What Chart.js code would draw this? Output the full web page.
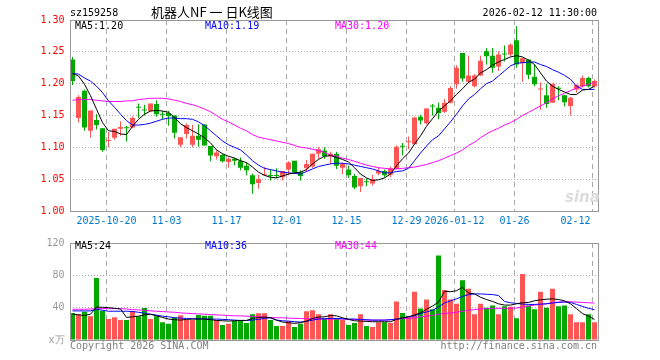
<!DOCTYPE html>
<html>
<head>
<meta charset="utf-8">
<script src="https://cdn.jsdelivr.net/npm/chart.js@4.4.1/dist/chart.umd.min.js"></script>
<style>
  body { margin: 0; background: #fff; }
  #wrap { position: relative; width: 660px; height: 360px; overflow: hidden;
          font-family: 'DejaVu Sans Mono', monospace; font-size: 10px; }
  canvas { position: absolute; left: 0; }
  .t { position: absolute; white-space: nowrap; line-height: 12px; }
</style>
</head>
<body>
<div id="wrap">
  <canvas id="price" width="660" height="232" style="top:0"></canvas>
  <canvas id="vol" width="660" height="128" style="top:232px"></canvas>

  <div class="t" style="left:70px;top:7px">sz159258</div>
  <div class="t" style="left:151px;top:4px;font-family:'Noto Sans CJK SC';font-size:13px;line-height:16px">机器人NF 一 日K线图</div>
  <div class="t" style="right:63px;top:7px">2026-02-12 11:30:00</div>

  <div class="t" style="left:75px;top:20px;color:#000">MA5:1.20</div>
  <div class="t" style="left:205px;top:20px;color:#0000ff">MA10:1.19</div>
  <div class="t" style="left:335px;top:20px;color:#ff00ff">MA30:1.20</div>

  <div class="t" style="left:565px;top:188px;color:#dcdcdc;font:italic bold 15px 'DejaVu Sans'">sina</div>

  <div class="t" style="left:75px;top:240px;color:#000">MA5:24</div>
  <div class="t" style="left:205px;top:240px;color:#0000ff">MA10:36</div>
  <div class="t" style="left:335px;top:240px;color:#ff00ff">MA30:44</div>

  <div class="t" style="left:70px;top:340px;color:#808080">Copyright 2026 SINA.COM</div>
  <div class="t" style="right:63px;top:340px;color:#808080">http://finance.sina.com.cn</div>
</div>

<script>
// trading days shown on the chart
const dates = [
  '2025-10-10', '2025-10-13', '2025-10-14', '2025-10-15', '2025-10-16', '2025-10-17',
  '2025-10-20', '2025-10-21', '2025-10-22', '2025-10-23', '2025-10-24',
  '2025-10-27', '2025-10-28', '2025-10-29', '2025-10-30', '2025-10-31',
  '2025-11-03', '2025-11-04', '2025-11-05', '2025-11-06', '2025-11-07',
  '2025-11-10', '2025-11-11', '2025-11-12', '2025-11-13', '2025-11-14',
  '2025-11-17', '2025-11-18', '2025-11-19', '2025-11-20', '2025-11-21',
  '2025-11-24', '2025-11-25', '2025-11-26', '2025-11-27', '2025-11-28',
  '2025-12-01', '2025-12-02', '2025-12-03', '2025-12-04', '2025-12-05',
  '2025-12-08', '2025-12-09', '2025-12-10', '2025-12-11', '2025-12-12',
  '2025-12-15', '2025-12-16', '2025-12-17', '2025-12-18', '2025-12-19',
  '2025-12-22', '2025-12-23', '2025-12-24', '2025-12-25', '2025-12-26',
  '2025-12-29', '2025-12-30', '2025-12-31',
  '2026-01-05', '2026-01-06', '2026-01-07', '2026-01-08', '2026-01-09',
  '2026-01-12', '2026-01-13', '2026-01-14', '2026-01-15', '2026-01-16',
  '2026-01-19', '2026-01-20', '2026-01-21', '2026-01-22', '2026-01-23',
  '2026-01-26', '2026-01-27', '2026-01-28', '2026-01-29', '2026-01-30',
  '2026-02-02', '2026-02-03', '2026-02-04', '2026-02-05', '2026-02-06',
  '2026-02-09', '2026-02-10', '2026-02-11', '2026-02-12',
];

const tickDates = ['2025-10-20', '2025-11-03', '2025-11-17', '2025-12-01', '2025-12-15',
                   '2025-12-29', '2026-01-12', '2026-01-26', '2026-02-12'];
const tickText = ['2025-10-20', '11-03', '11-17', '12-01', '12-15',
                  '12-29', '2026-01-12', '01-26', '02-12'];

const opens = [
  1.238, 1.146, 1.189, 1.126, 1.143, 1.130, 1.110, 1.115, 1.129, 1.131,
  1.131, 1.163, 1.159, 1.157, 1.168, 1.152, 1.154, 1.150, 1.104, 1.121,
  1.104, 1.118, 1.136, 1.102, 1.086, 1.088, 1.077, 1.082, 1.079, 1.071,
  1.056, 1.044, 1.056, 1.056, 1.056, 1.053, 1.065, 1.079, 1.061, 1.067,
  1.070, 1.090, 1.095, 1.086, 1.090, 1.068, 1.065, 1.055, 1.039, 1.046,
  1.043, 1.059, 1.063, 1.057, 1.066, 1.102, 1.108, 1.105, 1.148, 1.138,
  1.165, 1.162, 1.156, 1.170, 1.199, 1.248, 1.203, 1.196, 1.213, 1.251,
  1.244, 1.227, 1.247, 1.246, 1.268, 1.232, 1.238, 1.211, 1.191, 1.182,
  1.170, 1.193, 1.182, 1.165, 1.191, 1.196, 1.209, 1.196,
];
const highs = [
  1.242, 1.182, 1.191, 1.158, 1.152, 1.130, 1.124, 1.129, 1.141, 1.134,
  1.149, 1.169, 1.167, 1.169, 1.174, 1.157, 1.157, 1.150, 1.116, 1.138,
  1.135, 1.136, 1.136, 1.102, 1.095, 1.090, 1.084, 1.084, 1.084, 1.076,
  1.059, 1.057, 1.069, 1.065, 1.067, 1.063, 1.078, 1.079, 1.064, 1.080,
  1.090, 1.100, 1.100, 1.093, 1.093, 1.076, 1.071, 1.058, 1.052, 1.051,
  1.057, 1.069, 1.065, 1.070, 1.103, 1.107, 1.117, 1.148, 1.151, 1.161,
  1.168, 1.170, 1.176, 1.196, 1.229, 1.248, 1.244, 1.215, 1.244, 1.256,
  1.256, 1.251, 1.260, 1.263, 1.290, 1.241, 1.238, 1.230, 1.202, 1.200,
  1.200, 1.196, 1.182, 1.179, 1.199, 1.213, 1.211, 1.207,
];
const lows = [
  1.198, 1.139, 1.126, 1.115, 1.128, 1.093, 1.100, 1.112, 1.118, 1.109,
  1.130, 1.146, 1.150, 1.155, 1.148, 1.144, 1.134, 1.114, 1.100, 1.114,
  1.100, 1.101, 1.103, 1.078, 1.081, 1.076, 1.068, 1.072, 1.064, 1.056,
  1.027, 1.035, 1.055, 1.048, 1.052, 1.048, 1.056, 1.058, 1.048, 1.061,
  1.068, 1.082, 1.082, 1.074, 1.066, 1.058, 1.052, 1.034, 1.030, 1.039,
  1.040, 1.056, 1.053, 1.053, 1.066, 1.087, 1.097, 1.105, 1.136, 1.136,
  1.150, 1.144, 1.154, 1.169, 1.192, 1.203, 1.201, 1.194, 1.212, 1.230,
  1.217, 1.220, 1.235, 1.243, 1.225, 1.203, 1.207, 1.196, 1.159, 1.162,
  1.170, 1.174, 1.164, 1.150, 1.186, 1.194, 1.194, 1.194,
];
const closes = [
  1.204, 1.179, 1.131, 1.158, 1.135, 1.096, 1.111, 1.129, 1.132, 1.130,
  1.146, 1.162, 1.158, 1.169, 1.152, 1.151, 1.149, 1.123, 1.116, 1.135,
  1.118, 1.112, 1.103, 1.087, 1.092, 1.078, 1.082, 1.079, 1.068, 1.064,
  1.042, 1.050, 1.057, 1.055, 1.055, 1.063, 1.076, 1.061, 1.055, 1.074,
  1.090, 1.097, 1.086, 1.090, 1.071, 1.074, 1.056, 1.037, 1.052, 1.045,
  1.050, 1.063, 1.056, 1.067, 1.101, 1.101, 1.109, 1.147, 1.142, 1.161,
  1.164, 1.154, 1.170, 1.193, 1.225, 1.208, 1.213, 1.213, 1.236, 1.243,
  1.225, 1.246, 1.246, 1.261, 1.230, 1.240, 1.214, 1.199, 1.192, 1.168,
  1.200, 1.192, 1.171, 1.178, 1.198, 1.209, 1.196, 1.204,
];

// price moving averages
const ma5 = [
  1.216, 1.212, 1.199, 1.181, 1.160, 1.139, 1.126, 1.125, 1.121, 1.120,
  1.133, 1.144, 1.152, 1.157, 1.158, 1.157, 1.155, 1.147, 1.137, 1.131,
  1.126, 1.121, 1.115, 1.107, 1.096, 1.090, 1.086, 1.083, 1.079, 1.076,
  1.069, 1.061, 1.056, 1.053, 1.052, 1.055, 1.058, 1.060, 1.061, 1.065,
  1.074, 1.081, 1.086, 1.087, 1.084, 1.081, 1.077, 1.068, 1.058, 1.052,
  1.048, 1.049, 1.052, 1.058, 1.071, 1.082, 1.091, 1.105, 1.118, 1.133,
  1.145, 1.157, 1.165, 1.173, 1.183, 1.192, 1.202, 1.207, 1.217, 1.222,
  1.229, 1.234, 1.238, 1.242, 1.244, 1.242, 1.237, 1.230, 1.217, 1.204,
  1.196, 1.191, 1.187, 1.183, 1.183, 1.190, 1.191, 1.196,
];
const ma10 = [
  1.216, 1.215, 1.209, 1.204, 1.196, 1.186, 1.173, 1.163, 1.152, 1.142,
  1.135, 1.135, 1.136, 1.138, 1.141, 1.144, 1.146, 1.146, 1.145, 1.145,
  1.144, 1.140, 1.134, 1.126, 1.118, 1.110, 1.104, 1.100, 1.096, 1.088,
  1.079, 1.072, 1.067, 1.065, 1.063, 1.061, 1.060, 1.059, 1.058, 1.062,
  1.066, 1.070, 1.072, 1.074, 1.075, 1.075, 1.074, 1.072, 1.070, 1.068,
  1.066, 1.063, 1.060, 1.060, 1.062, 1.063, 1.067, 1.079, 1.091, 1.102,
  1.112, 1.118, 1.129, 1.140, 1.152, 1.165, 1.176, 1.183, 1.192, 1.200,
  1.204, 1.212, 1.220, 1.228, 1.232, 1.233, 1.234, 1.234, 1.230, 1.227,
  1.222, 1.218, 1.213, 1.207, 1.196, 1.191, 1.191, 1.191,
];
const ma30 = [
  1.174, 1.175, 1.175, 1.175, 1.174, 1.173, 1.172, 1.172, 1.172, 1.173,
  1.173, 1.175, 1.176, 1.177, 1.177, 1.177, 1.176, 1.174, 1.172, 1.169,
  1.167, 1.164, 1.160, 1.156, 1.150, 1.144, 1.140, 1.135, 1.130, 1.126,
  1.120, 1.116, 1.114, 1.112, 1.110, 1.108, 1.106, 1.103, 1.100, 1.099,
  1.097, 1.095, 1.092, 1.088, 1.086, 1.083, 1.081, 1.078, 1.075, 1.072,
  1.070, 1.068, 1.067, 1.066, 1.066, 1.067, 1.068, 1.069, 1.071, 1.073,
  1.076, 1.079, 1.083, 1.087, 1.091, 1.096, 1.103, 1.108, 1.115, 1.121,
  1.126, 1.130, 1.135, 1.139, 1.144, 1.150, 1.155, 1.160, 1.165, 1.170,
  1.176, 1.181, 1.185, 1.189, 1.193, 1.196, 1.199, 1.202,
];

// volume, 万
const volumes = [
  33.5, 32, 35, 29.5, 76.8, 36, 26, 28, 24.6, 24.6,
  36, 29.5, 39.6, 26, 29.5, 22, 20, 28, 30.7, 24.6,
  24.6, 31, 30, 30, 24.6, 18.6, 20, 23.4, 23.4, 21,
  32, 33, 33, 24.6, 17.4, 17.4, 23.4, 16, 20, 35.5,
  36.8, 32, 27, 32, 27, 24.6, 18.6, 21, 32, 17.4,
  16, 22, 22, 21, 47.7, 33.5, 29.5, 59.8, 39, 50,
  38, 104.6, 62, 50, 45, 74, 63.4, 32, 45, 40,
  42.8, 32, 41.6, 41, 27, 81.6, 42.8, 38, 59.8, 40,
  63.4, 41.6, 42.8, 32, 22, 22, 32, 22,
];
const vma5 = [
  31.9, 31.1, 30.3, 31.9, 40.8, 40.4, 40.0, 39.2, 38.4, 27.9,
  28.7, 29.5, 31.1, 31.9, 29.9, 27.9, 25.9, 25.1, 24.6, 25.5,
  25.9, 25.9, 25.9, 25.1, 24.2, 23.8, 23.4, 23.8, 24.2, 24.2,
  26.7, 27.9, 28.3, 27.5, 24.6, 22.2, 21.4, 20.6, 21.4, 23.4,
  26.7, 28.3, 28.7, 30.3, 29.9, 27.5, 25.5, 23.8, 23.4, 23.0,
  22.6, 22.6, 22.6, 22.6, 25.5, 27.5, 28.7, 31.1, 33.5, 38.0,
  42.0, 46.9, 60.2, 59.8, 61.0, 65.1, 58.2, 57.0, 52.9, 50.1,
  47.7, 44.8, 43.2, 43.2, 44.8, 46.1, 46.5, 48.5, 49.7, 50.5,
  50.9, 50.1, 48.5, 44.8, 38.8, 32.7, 29.5, 25.5,
];
const vma10 = [
  36.0, 36.0, 36.0, 36.0, 38.0, 36.8, 35.6, 35.6, 35.6, 35.6,
  35.2, 34.3, 33.1, 31.9, 30.7, 29.5, 28.7, 27.5, 27.1, 26.7,
  26.3, 26.3, 26.3, 25.9, 25.9, 25.5, 25.1, 24.6, 24.2, 24.2,
  24.6, 25.5, 26.7, 27.5, 24.6, 23.8, 23.4, 22.6, 22.2, 23.0,
  24.6, 25.9, 26.3, 26.7, 26.7, 26.3, 25.9, 25.9, 25.5, 25.1,
  24.6, 24.6, 24.6, 25.1, 25.9, 27.1, 28.7, 29.9, 32.7, 34.7,
  36.8, 40.8, 45.7, 48.5, 50.9, 53.7, 56.2, 57.0, 57.0, 56.6,
  56.2, 55.0, 47.7, 46.1, 45.3, 44.4, 44.0, 44.0, 44.4, 44.8,
  45.7, 46.5, 46.9, 46.5, 44.0, 41.6, 39.2, 37.6,
];
const vma30 = [
  38.0, 38.0, 38.0, 38.4, 38.8, 38.8, 38.8, 38.8, 38.8, 38.4,
  37.6, 37.2, 36.8, 36.0, 35.6, 35.2, 34.7, 34.3, 33.5, 33.1,
  32.7, 32.3, 31.9, 31.5, 31.1, 30.7, 30.3, 29.9, 29.9, 29.5,
  29.1, 28.7, 28.3, 27.9, 27.5, 27.5, 27.1, 26.7, 26.7, 26.3,
  26.3, 26.3, 25.9, 25.9, 25.9, 25.9, 25.5, 25.5, 25.1, 24.6,
  24.6, 24.6, 24.6, 25.1, 25.5, 26.3, 26.7, 27.5, 28.7, 29.5,
  30.3, 31.9, 32.7, 33.5, 34.3, 35.6, 36.8, 37.6, 38.4, 38.8,
  39.2, 39.2, 39.2, 39.2, 39.6, 40.8, 42.0, 43.2, 44.0, 44.8,
  46.5, 46.9, 47.3, 47.3, 46.9, 46.5, 46.1, 45.7,
];

const UP = '#ff5555';
const DOWN = '#00a800';
const GRID = '#aaaaaa';
const colors = closes.map((c, i) => c >= opens[i] ? UP : DOWN);

Chart.defaults.font.family = "'DejaVu Sans Mono', monospace";
Chart.defaults.font.size = 10;

// dashed day lines, box frame and date labels, drawn like the sina k-line
const sinaFrame = {
  id: 'sinaFrame',
  beforeDatasetsDraw(chart) {
    const { ctx, chartArea: a, scales: { x } } = chart;
    ctx.save();
    ctx.strokeStyle = GRID;
    ctx.lineWidth = 1;
    ctx.setLineDash([5, 4]);
    tickDates.forEach(d => {
      const px = Math.floor(x.getPixelForValue(dates.indexOf(d))) - 2 + 0.5;
      ctx.beginPath();
      ctx.moveTo(px, a.top);
      ctx.lineTo(px, a.bottom);
      ctx.stroke();
    });
    ctx.restore();
  },
  afterDraw(chart, args, opts) {
    const { ctx, chartArea: a, scales: { x } } = chart;
    ctx.save();
    ctx.strokeStyle = '#999';
    ctx.lineWidth = 1;
    const l = Math.round(a.left) + 0.5, r = Math.round(a.right) + 0.5;
    const t = Math.round(a.top) + 0.5, b = Math.round(a.bottom) + 0.5;
    ctx.strokeRect(l, t, r - l, b - t);
    if (opts.dates) {
      ctx.font = "10px 'DejaVu Sans Mono'";
      ctx.fillStyle = '#0077cc';
      ctx.textAlign = 'center';
      ctx.textBaseline = 'middle';
      tickDates.forEach((d, k) => {
        const w = ctx.measureText(tickText[k]).width;
        const px = Math.floor(x.getPixelForValue(dates.indexOf(d))) - 2 + 0.5;
        ctx.fillText(tickText[k], Math.min(px, a.right - 7 - w / 2), a.bottom + 10);
      });
    }
    ctx.restore();
  },
};

function maLine(data, color) {
  return { type: 'line', data, borderColor: color, borderWidth: 1, pointRadius: 0,
           tension: 0, fill: false, order: 0 };
}

new Chart(document.getElementById('price'), {
  type: 'bar',
  data: {
    labels: dates,
    datasets: [
      maLine(ma5, '#000000'),
      maLine(ma10, '#0000ff'),
      maLine(ma30, '#ff00ff'),
      { data: lows.map((v, i) => [v, highs[i]]), backgroundColor: colors,
        barThickness: 1, grouped: false, inflateAmount: 0, minBarLength: 1, order: 2 },
      { data: opens.map((v, i) => [v, closes[i]]), backgroundColor: colors,
        barThickness: 5, grouped: false, inflateAmount: 0, minBarLength: 1, order: 1 },
    ],
  },
  options: {
    responsive: false,
    animation: false,
    events: [],
    layout: { padding: { top: 20, right: 62.5, bottom: 21, left: 0 } },
    plugins: { legend: { display: false }, tooltip: { enabled: false }, sinaFrame: { dates: true } },
    scales: {
      x: { display: false, offset: true },
      y: {
        min: 1.0, max: 1.3,
        afterFit: s => { s.width = 69.5; },
        ticks: { stepSize: 0.05, color: '#ff0000', padding: 5, callback: v => v.toFixed(2) },
        grid: { color: GRID, drawTicks: false },
        border: { display: false, dash: [1, 2] },
      },
    },
  },
  plugins: [sinaFrame],
});

new Chart(document.getElementById('vol'), {
  type: 'bar',
  data: {
    labels: dates,
    datasets: [
      maLine(vma5, '#000000'),
      maLine(vma10, '#0000ff'),
      maLine(vma30, '#ff00ff'),
      { data: volumes, backgroundColor: colors, barThickness: 5, inflateAmount: 0, order: 1 },
    ],
  },
  options: {
    responsive: false,
    animation: false,
    events: [],
    layout: { padding: { top: 9, right: 62.5, bottom: 20, left: 0 } },
    plugins: { legend: { display: false }, tooltip: { enabled: false }, sinaFrame: { dates: false } },
    scales: {
      x: { display: false, offset: true },
      y: {
        min: 0, max: 120,
        afterFit: s => { s.width = 69.5; },
        ticks: { stepSize: 40, color: '#999999', padding: 5, callback: v => v === 0 ? 'x万' : v },
        grid: { color: GRID, drawTicks: false },
        border: { display: false, dash: [1, 2] },
      },
    },
  },
  plugins: [sinaFrame],
});
</script>
</body>
</html>
